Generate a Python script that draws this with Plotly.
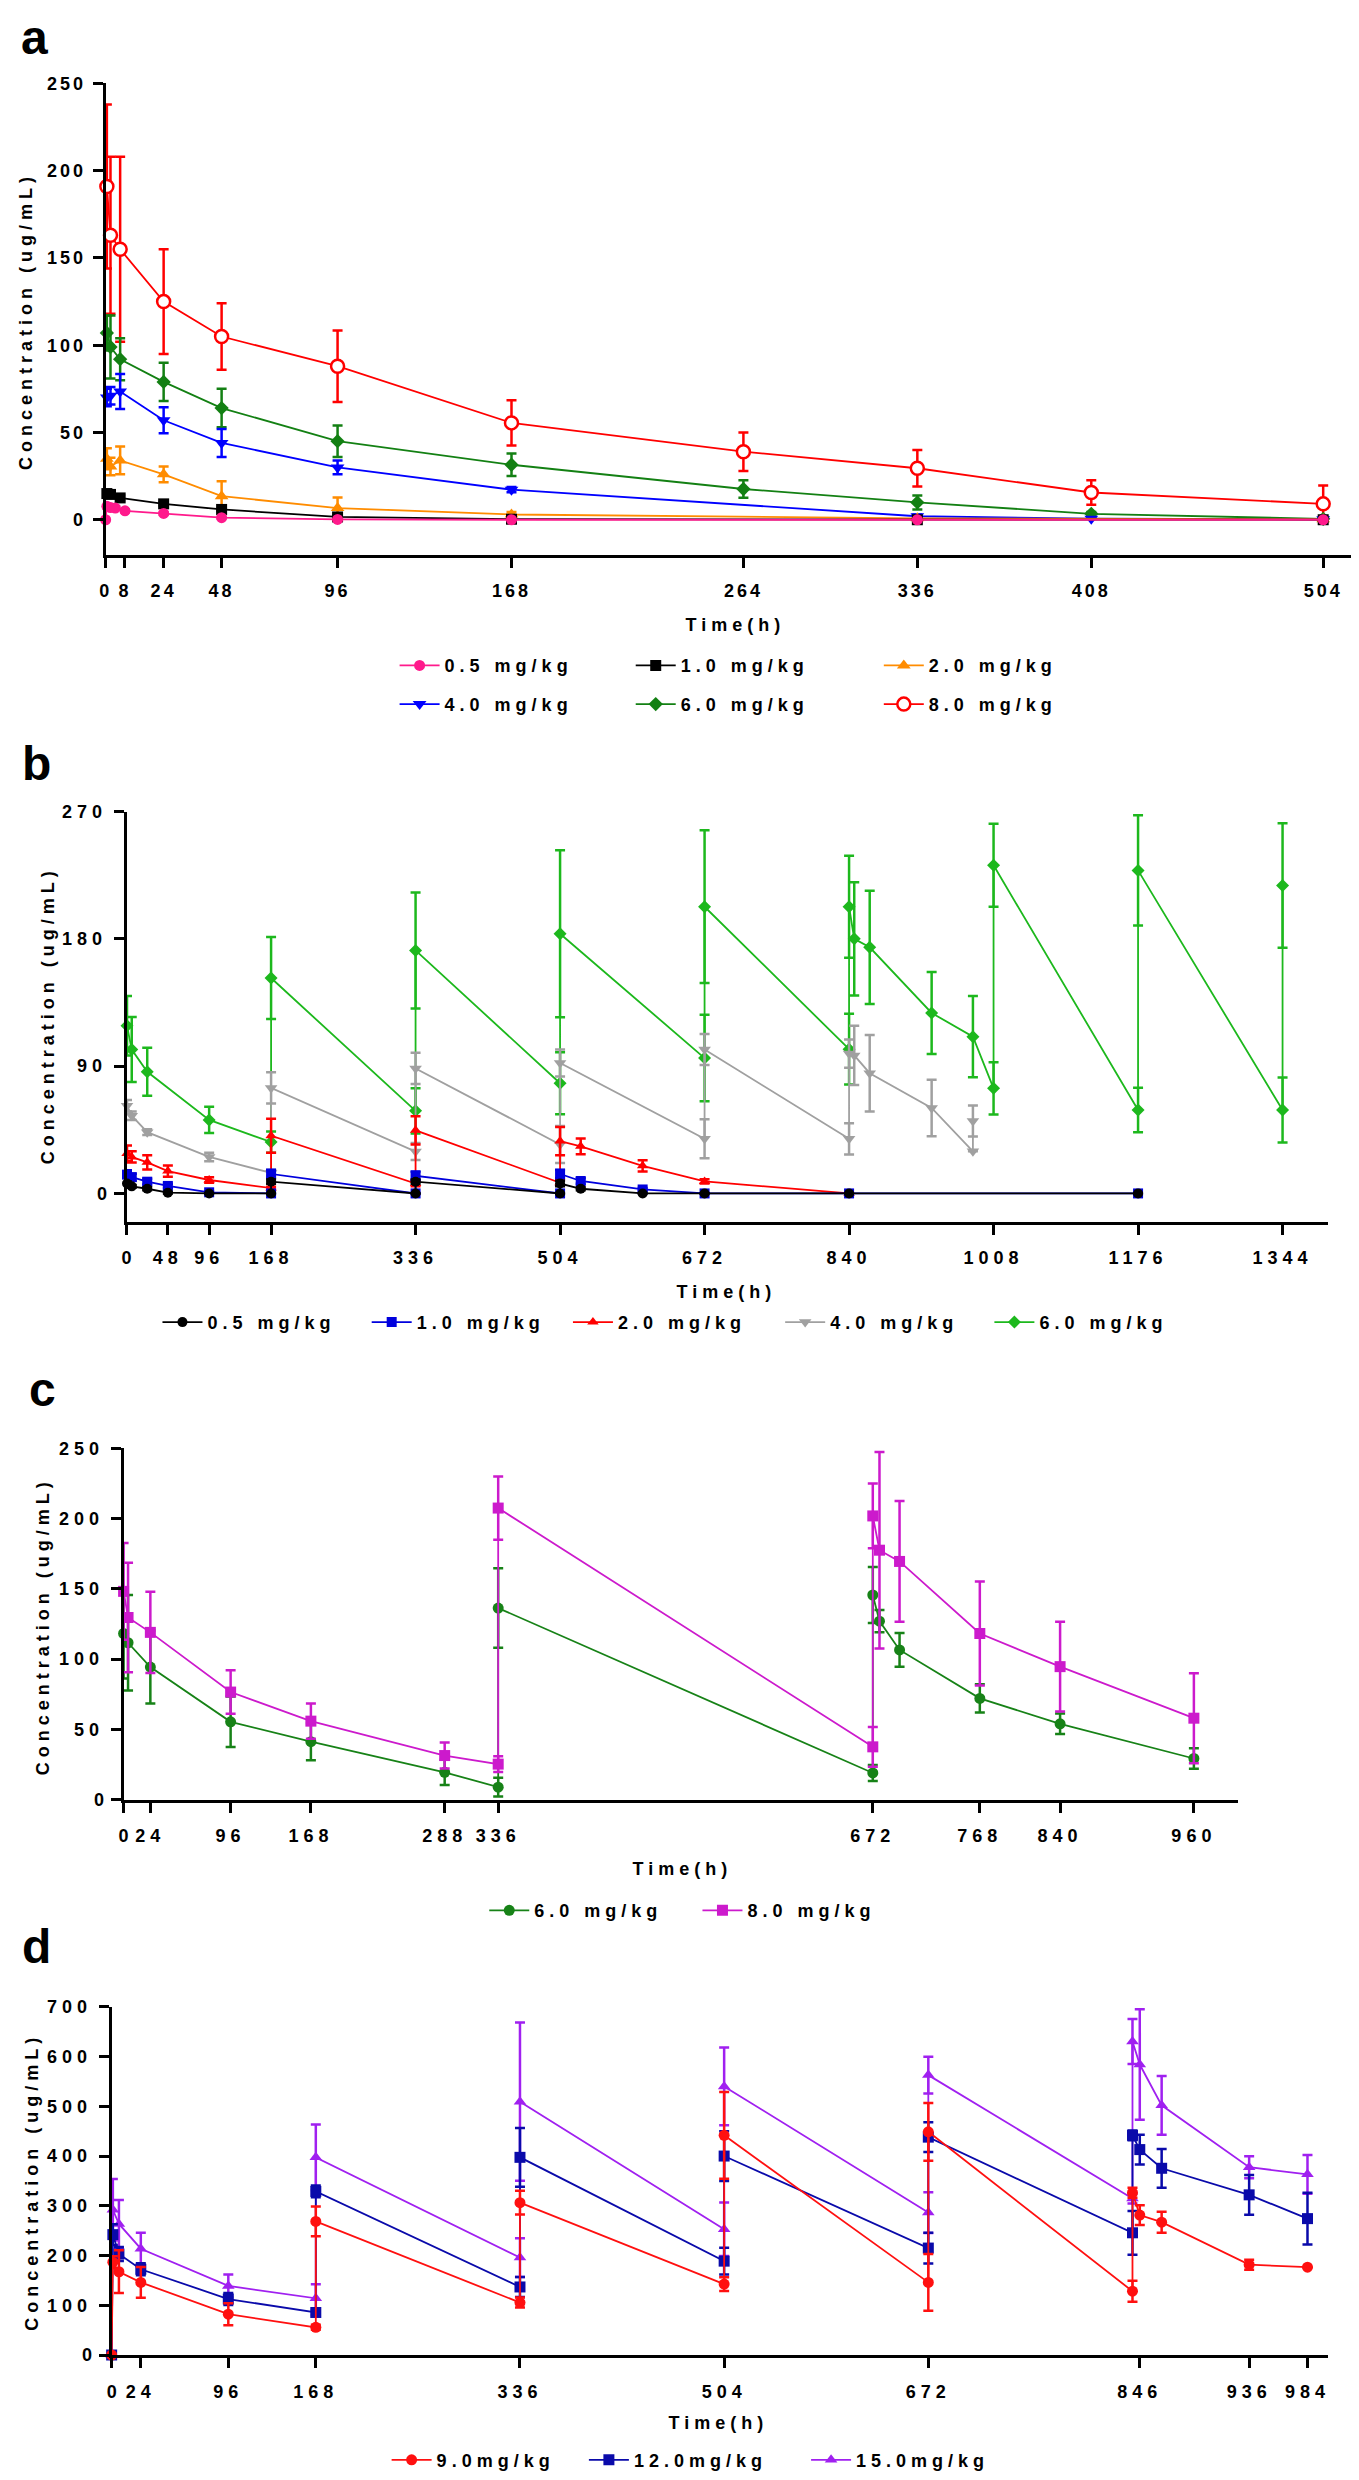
import plotly.graph_objects as go

W, H = 1359, 2480
FONT = "Liberation Sans, Arial, sans-serif"

# ---------------- Panel a ----------------
a_t_p05 = [0, 0.5, 2, 4, 8, 24, 48, 96, 168, 336, 504]
a_y_p05 = [0, 7.7, 7, 6.7, 5.1, 3.6, 1.2, 0.2, 0, 0, 0]
a_e_p05 = [0, 1, 1, 1, 0.8, 0.8, 0.5, 0, 0, 0, 0]

a_t_p10 = [0.5, 2, 6, 24, 48, 96, 168, 336, 504]
a_y_p10 = [15, 14.5, 12.5, 9.1, 5.9, 1.6, 0.3, 0, 0]
a_e_p10 = [2, 1.5, 1.5, 1, 1, 0.8, 0, 0, 0]

a_t_p20 = [0.5, 2, 6, 24, 48, 96, 168, 336, 504]
a_y_p20 = [35, 30.5, 34, 26, 13.5, 6.7, 3, 0.8, 0.3]
a_e_p20 = [6, 5, 8, 4.5, 8.5, 6, 1.5, 0, 0]

a_t_p40 = [0.5, 2, 6, 24, 48, 96, 168, 336, 408, 504]
a_y_p40 = [70, 71, 73.5, 57, 44, 30, 17.2, 2, 0.6, 0.3]
a_e_p40 = [5, 5, 10, 7.5, 8, 4, 1.5, 1, 0, 0]

a_t_p60 = [0.5, 2, 6, 24, 48, 96, 168, 264, 336, 408, 504]
a_y_p60 = [107, 99, 92, 79, 64, 45, 31.5, 17.6, 9.9, 3.4, 0.5]
a_e_p60 = [10, 18, 12, 11, 11, 9, 6.5, 5, 4, 1, 0]

a_t_p80 = [0.5, 2, 6, 24, 48, 96, 168, 264, 336, 408, 504]
a_y_p80 = [191, 163, 155, 125, 105, 88, 55.5, 39, 29.5, 15.6, 9.1]
a_e_p80 = [47, 45, 53, 30, 19, 20.5, 13, 11, 10.5, 7, 10.5]

a_xticks = [0, 8, 24, 48, 96, 168, 264, 336, 408, 504]
a_yticks = [0, 50, 100, 150, 200, 250]

# ---------------- Panel b ----------------
b_t_low = [0.5, 6, 24, 48, 96, 168, 168, 336, 336, 504, 504, 528, 600, 672, 840, 1176]
b_y_05 = [7, 5, 3.3, 0.5, 0, 0, 8.3, 0, 8.3, 0, 7, 3.3, 0, 0, 0, 0]
b_e_05 = [1.5, 1, 1, 0.5, 0, 0, 1.5, 0, 1.5, 0, 2, 1, 0, 0, 0, 0]
b_y_10 = [13.3, 11.5, 8.3, 5.3, 0.8, 0, 13.8, 0, 12.5, 0, 13.8, 8.8, 2.8, 0, 0, 0]
b_e_10 = [3, 2.5, 2, 1.5, 0.5, 0, 3, 0, 3, 0, 3, 2, 1, 0, 0, 0]

b_t_20 = [0.5, 6, 24, 48, 96, 168, 168, 336, 336, 504, 504, 528, 600, 672, 840]
b_y_20 = [28.3, 25.8, 22, 15.8, 9.5, 3.8, 40.8, 7, 44.6, 7.5, 37, 33.3, 19.5, 8.5, 0]
b_e_20 = [5.5, 4, 5, 4, 2, 1, 12, 2, 10, 2, 10, 5.6, 4, 1.5, 0]

b_t_40 = [0.5, 6, 24, 96, 168, 168, 336, 336, 504, 504, 672, 672, 840, 840, 846, 864, 936, 984, 984]
b_y_40 = [62, 55, 43.3, 25.8, 14.5, 74.6, 29.6, 88.4, 34.6, 92.2, 38.6, 101.8, 38.6, 98.9, 97.6, 85, 60.4, 29.8, 51.2]
b_e_40 = [4, 3, 2, 3, 2, 11, 6, 11, 13, 9.5, 13.8, 11, 11, 10, 21, 27, 20, 0, 11]

b_t_60 = [0.5, 6, 24, 96, 168, 168, 336, 336, 504, 504, 672, 672, 840, 840, 846, 864, 936, 984,
          1008, 1008, 1176, 1176, 1344, 1344]
b_y_60 = [118.5, 101.7, 86, 52, 36.3, 152.3, 58.4, 171.8, 77.9, 183.6, 95.7, 202.7, 102, 202.7, 180, 174,
          127.6, 110.8, 74.3, 232, 59, 228.4, 59, 217.7]
b_e_60 = [21, 23, 17, 9.3, 7.5, 29, 16, 41, 22, 59, 30.6, 54, 25, 36, 40, 40, 29, 28.7, 18.5, 29.3, 15.7, 39, 23, 44]

b_xticks = [0, 48, 96, 168, 336, 504, 672, 840, 1008, 1176, 1344]
b_yticks = [0, 90, 180, 270]

# ---------------- Panel c ----------------
c_t = [0, 4, 24, 96, 168, 288, 336, 336, 672, 672, 678, 696, 768, 840, 960]
c_y_60 = [118.2, 111.6, 94.3, 55.3, 41.2, 19.4, 8.8, 136.3, 18.9, 145.6, 127, 106.5, 72, 53.9, 29.2]
c_e_60 = [32, 34, 26, 18, 13.3, 9, 6.7, 28.3, 5.7, 20, 8, 12, 10, 7.3, 7.3]
c_y_80 = [148.2, 129.6, 119, 76.5, 55.8, 31.3, 25.2, 207.5, 37.5, 201.9, 177.5, 169.5, 118.2, 94.6, 57.9]
c_e_80 = [34.5, 39, 29, 15.5, 12.6, 9.3, 5.6, 22.5, 14.2, 23, 70, 43, 37, 32, 32]

c_xticks = [0, 24, 96, 168, 288, 336, 672, 768, 840, 960]
c_yticks = [0, 50, 100, 150, 200, 250]

# ---------------- Panel d ----------------
d_t = [0, 1, 6, 24, 96, 168, 168, 336, 336, 504, 504, 672, 672, 840, 840, 846, 864, 936, 984]
d_y_90 = [0, 186.6, 167.4, 146, 82, 55.6, 268.5, 105.4, 306.3, 142.5, 441.6, 146, 448.7, 128.2, 326.2,
          281.3, 267, 181.6, 176.6]
d_e_90 = [0, 12, 43, 31, 22, 5, 30, 10, 24, 14, 87, 57, 58, 21, 10, 20, 21, 10, 0]
d_y_120 = [0, 242, 203, 172.4, 112.5, 85.5, 329, 136.8, 397.4, 188.7, 400, 215, 438, 245.7, 441.6,
           413, 375.4, 322, 274.2]
d_e_120 = [0, 21, 14, 12, 12, 5, 12, 20, 59, 27, 50, 31, 30, 44, 10, 30, 39, 40, 52]
d_y_150 = [0, 292, 263.5, 213.7, 138.9, 114, 397.4, 195.9, 509.3, 252.8, 540, 286.3, 562.7, 314.8,
           630.3, 584, 502, 377.5, 363.2]
d_e_150 = [0, 62, 48, 32, 23, 28, 66, 39, 159, 54, 78, 41, 37, 10, 45, 111, 59, 22, 39]

d_xticks = [0, 24, 96, 168, 336, 504, 672, 846, 936, 984]
d_yticks = [0, 100, 200, 300, 400, 500, 600, 700]

# ---------------- figure ----------------
fig = go.Figure()
legends = {}
leg_count = [1]
ITEMW = 40


def new_legend(cx, cy):
    leg_count[0] += 1
    key = "legend%d" % leg_count[0]
    legends[key] = dict(
        x=(cx - (ITEMW + 10) / 2) / W, y=1 - cy / H, xanchor="left", yanchor="middle",
        orientation="v", bgcolor="rgba(0,0,0,0)", borderwidth=0, itemwidth=ITEMW,
        font=dict(family=FONT, size=18, color="black", weight="bold"),
    )
    return key


def add(t, y, e, name, color, symbol, size, xa, ya, legpos, fill=None, lw=1.8):
    key = new_legend(*legpos)
    fig.add_trace(go.Scatter(
        x=t, y=y, mode="lines+markers", name=name, showlegend=True,
        line=dict(color=color, width=lw),
        marker=dict(symbol=symbol, size=size, color=fill if fill else color,
                    line=dict(color=color, width=2.5 if fill else 0)),
        error_y=dict(type="data", array=e, visible=True, color=color, thickness=2.5, width=5),
        xaxis=xa, yaxis=ya, legend=key, cliponaxis=False,
    ))


# Panel a (draw order: top-most last)
add(a_t_p80, a_y_p80, a_e_p80, "8.0 mg/kg", "#ff0000", "circle", 13, "x", "y", (894, 692), fill="white")
add(a_t_p60, a_y_p60, a_e_p60, "6.0 mg/kg", "#138013", "diamond", 11, "x", "y", (645, 692))
add(a_t_p40, a_y_p40, a_e_p40, "4.0 mg/kg", "#0000ff", "triangle-down", 12, "x", "y", (408, 692))
add(a_t_p20, a_y_p20, a_e_p20, "2.0 mg/kg", "#ff8c00", "triangle-up", 12, "x", "y", (894, 653))
add(a_t_p10, a_y_p10, a_e_p10, "1.0 mg/kg", "#000000", "square", 11, "x", "y", (645, 653))
add(a_t_p05, a_y_p05, a_e_p05, "0.5 mg/kg", "#ff1a8c", "circle", 11, "x", "y", (408, 653))

# Panel b
add(b_t_60, b_y_60, b_e_60, "6.0 mg/kg", "#1db81d", "diamond", 10, "x2", "y2", (1005, 1315))
add(b_t_40, b_y_40, b_e_40, "4.0 mg/kg", "#a0a0a0", "triangle-down", 11, "x2", "y2", (795, 1315))
add(b_t_20, b_y_20, b_e_20, "2.0 mg/kg", "#ff0000", "triangle-up", 10, "x2", "y2", (582, 1315))
add(b_t_low, b_y_10, b_e_10, "1.0 mg/kg", "#0000dd", "square", 10, "x2", "y2", (380, 1315))
add(b_t_low, b_y_05, b_e_05, "0.5 mg/kg", "#000000", "circle", 10, "x2", "y2", (170, 1315))

# Panel c
add(c_t, c_y_60, c_e_60, "6.0 mg/kg", "#178217", "circle", 11, "x3", "y3", (498, 1908))
add(c_t, c_y_80, c_e_80, "8.0 mg/kg", "#cc1acc", "square", 11, "x3", "y3", (712, 1908))

# Panel d
add(d_t, d_y_150, d_e_150, "15.0mg/kg", "#a020f0", "triangle-up", 11, "x4", "y4", (821, 2462))
add(d_t, d_y_120, d_e_120, "12.0mg/kg", "#0a0aaa", "square", 11, "x4", "y4", (598, 2462))
add(d_t, d_y_90, d_e_90, "9.0mg/kg", "#ff1010", "circle", 11, "x4", "y4", (400, 2462))


def xaxis(tickvals, rng, px0, px1, anchor):
    return dict(domain=[px0 / W, px1 / W], range=rng, anchor=anchor, tickmode="array",
                tickvals=tickvals, ticktext=[str(v) for v in tickvals],
                showline=True, linecolor="black", linewidth=3, ticks="outside", ticklen=10,
                tickwidth=2.5, tickcolor="black", showgrid=False, zeroline=False,
                tickfont=dict(family=FONT, size=18, color="black", weight="bold"),
                ticklabelstandoff=8, fixedrange=True)


def yaxis(tickvals, rng, py_bottom, py_top, anchor):
    return dict(domain=[1 - py_bottom / H, 1 - py_top / H], range=rng, anchor=anchor, tickmode="array",
                tickvals=tickvals, ticktext=[str(v) for v in tickvals],
                showline=True, linecolor="black", linewidth=3, ticks="outside", ticklen=10,
                tickwidth=2.5, tickcolor="black", showgrid=False, zeroline=False,
                tickfont=dict(family=FONT, size=18, color="black", weight="bold"),
                ticklabelstandoff=3, fixedrange=True)


layout = dict(
    width=W, height=H, autosize=False, showlegend=True,
    margin=dict(l=0, r=0, t=0, b=0),
    paper_bgcolor="white", plot_bgcolor="white",
    xaxis=xaxis(a_xticks, [0, 520.9], 93, 1356, "y"),
    yaxis=yaxis(a_yticks, [-20, 250], 541, 66, "x"),
    xaxis2=xaxis(b_xticks, [0, 1397], 114, 1320, "y2"),
    yaxis2=yaxis(b_yticks, [-20, 270], 1213.5, 800, "x2"),
    xaxis3=xaxis(c_xticks, [0, 1000], 111, 1230, "y3"),
    yaxis3=yaxis(c_yticks, [0, 250], 1796, 1442, "x3"),
    xaxis4=xaxis(d_xticks, [0, 1001], 99, 1320, "y4"),
    yaxis4=yaxis(d_yticks, [0, 700], 2356, 2005, "x4"),
)
layout.update(legends)

annots = []


def ann(text, cx, cy, size=18, angle=0):
    annots.append(dict(text=text, x=cx / W, y=1 - cy / H, xref="paper", yref="paper",
                       xanchor="center", yanchor="middle", showarrow=False, textangle=angle,
                       font=dict(family=FONT, size=size, color="black", weight="bold")))


for letter, cx, cy in [("a", 22, 20), ("b", 24, 752), ("c", 30, 1383), ("d", 24, 1944)]:
    ann(letter, cx, cy, size=48)
for cx, cy in [(13, 305), (35, 1005), (30, 1621), (19, 2181)]:
    ann("Concentration (ug/mL)", cx, cy, size=18, angle=-90)
for cx, cy in [(725, 612), (716, 1284), (672, 1866), (708, 2425)]:
    ann("Time(h)", cx, cy, size=18)
layout["annotations"] = annots

fig.update_layout(**layout)

post = """
var gd = document.getElementById('{plot_id}');
function spaceText(){
  document.querySelectorAll('clipPath').forEach(function(cp){
    var id = cp.getAttribute('id') || '';
    if (id.indexOf('legend') === 0) {
      cp.querySelectorAll('rect').forEach(function(r){
        r.setAttribute('x', -500); r.setAttribute('y', -500);
        r.setAttribute('width', 3000); r.setAttribute('height', 3000);
      });
    }
  });
  gd.querySelectorAll('.legend, .legend *').forEach(function(g){
    if (g.hasAttribute && g.hasAttribute('clip-path')) { g.removeAttribute('clip-path'); }
    if (g.style) { g.style.clipPath = 'none'; }
  });
  gd.querySelectorAll('text').forEach(function(t){
    var s = t.textContent || '';
    if (t.closest('.xtick') || t.closest('.ytick')) { t.style.letterSpacing = '3px'; }
    else if (s.length > 1) { t.style.letterSpacing = '5px'; }
  });
  gd.querySelectorAll('.legend text.legendtext').forEach(function(t){
    var ox = t.getAttribute('data-ox');
    if (ox === null) { ox = t.getAttribute('x') || '0'; t.setAttribute('data-ox', ox); }
    t.setAttribute('x', parseFloat(ox) + 15);
    t.querySelectorAll('tspan[x]').forEach(function(ts){
      var tx = ts.getAttribute('data-ox');
      if (tx === null) { tx = ts.getAttribute('x') || '0'; ts.setAttribute('data-ox', tx); }
      ts.setAttribute('x', parseFloat(tx) + 15);
    });
  });
}
spaceText();
gd.on('plotly_afterplot', spaceText);
setTimeout(spaceText, 30);
setTimeout(spaceText, 200);
setTimeout(spaceText, 800);
"""
fig.write_html("out.html", post_script=post)
